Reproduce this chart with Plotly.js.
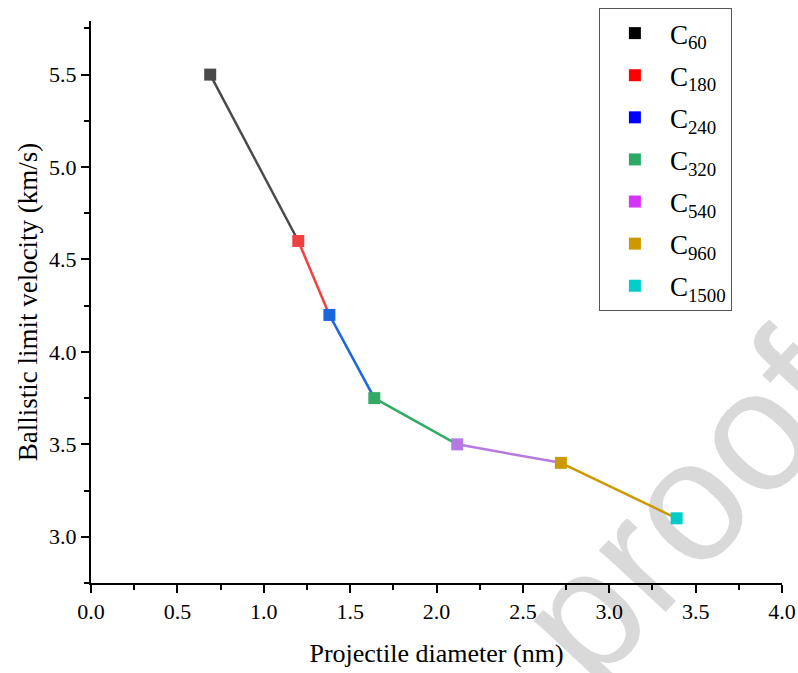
<!DOCTYPE html>
<html>
<head>
<meta charset="utf-8">
<script src="https://cdn.plot.ly/plotly-3.0.1.min.js"></script>
<style>html,body{margin:0;padding:0;background:#fff;}#chart{width:798px;height:673px;}</style>
</head>
<body>
<div id="chart"></div>
<script>
// Data
const names = ['C<sub>60</sub>','C<sub>180</sub>','C<sub>240</sub>','C<sub>320</sub>','C<sub>540</sub>','C<sub>960</sub>','C<sub>1500</sub>'];
const diameter = [0.69, 1.20, 1.38, 1.64, 2.12, 2.72, 3.39];
const velocity = [5.50, 4.60, 4.20, 3.75, 3.50, 3.40, 3.10];
const legendColors = ['#000000','#ff0000','#0000ff','#2ca866','#d633ff','#cc9900','#00cccc'];
const plotColors = ['#4a4a4a','#f04040','#1a66dd','#33aa66','#b57ae0','#cc9900','#00cccc'];

const FONT = 'Liberation Serif, Times New Roman, serif';
const traces = [];
// line segments, coloured by starting point
for (let i = 0; i < diameter.length - 1; i++) {
  traces.push({
    x: [diameter[i], diameter[i+1]], y: [velocity[i], velocity[i+1]],
    mode: 'lines', line: {color: plotColors[i], width: 2.5},
    showlegend: false, hoverinfo: 'skip'
  });
}
// markers
for (let i = 0; i < diameter.length; i++) {
  traces.push({
    x: [diameter[i]], y: [velocity[i]], mode: 'markers',
    marker: {symbol: 'square', size: 12, color: plotColors[i], line: {width: 0}},
    showlegend: false
  });
}
// legend entries
for (let i = 0; i < names.length; i++) {
  traces.push({
    x: [null], y: [null], mode: 'markers', name: names[i],
    legendgroup: 'g' + i,
    marker: {symbol: 'square', size: 12, color: legendColors[i]},
    showlegend: true
  });
}

const layout = {
  width: 798, height: 673,
  margin: {l: 91, r: 16, t: 21, b: 90, autoexpand: false},
  paper_bgcolor: '#fff', plot_bgcolor: '#fff',
  font: {family: FONT, color: '#000', size: 22},
  showlegend: true,
  legend: {
    x: 0.735, y: 1.023, xanchor: 'left', yanchor: 'top',
    bgcolor: '#fff', bordercolor: '#555', borderwidth: 1,
    font: {family: FONT, size: 27, color: '#000'},
    tracegroupgap: 4, itemwidth: 60
  },
  xaxis: {
    range: [0, 4.0], dtick: 0.5, tick0: 0, tickformat: '.1f',
    showline: true, linecolor: '#000', linewidth: 2,
    ticks: 'outside', ticklen: 8, tickwidth: 2, tickcolor: '#000',
    minor: {ticks: 'outside', ticklen: 5, tickwidth: 2, tickcolor: '#000', dtick: 0.25},
    showgrid: false, zeroline: false,
    tickfont: {family: FONT, size: 22},
    title: {text: 'Projectile diameter (nm)', font: {family: FONT, size: 26}, standoff: 20}
  },
  yaxis: {
    range: [2.75, 5.79], dtick: 0.5, tick0: 0, tickformat: '.1f',
    showline: true, linecolor: '#000', linewidth: 2,
    ticks: 'outside', ticklen: 8, tickwidth: 2, tickcolor: '#000',
    minor: {ticks: 'outside', ticklen: 5, tickwidth: 2, tickcolor: '#000', dtick: 0.25},
    showgrid: false, zeroline: false,
    tickfont: {family: FONT, size: 22},
    title: {text: 'Ballistic limit velocity (km/s)', font: {family: FONT, size: 27}, standoff: 4}
  },
  shapes: [{
    type: 'line', xref: 'paper', yref: 'paper', layer: 'below',
    x0: 0.766, y0: 0.063, x1: 0.911, y1: 0.248,
    line: {color: 'rgba(0,0,0,0)', width: 0},
    label: {text: 'proof', textangle: -47, textposition: 'middle', xanchor: 'center', yanchor: 'middle',
            font: {family: 'Liberation Sans, Arial, sans-serif', size: 172, color: '#d9d9d9'}}
  }]
};

Plotly.newPlot('chart', traces, layout, {displayModeBar: false, staticPlot: true});
</script>
</body>
</html>
